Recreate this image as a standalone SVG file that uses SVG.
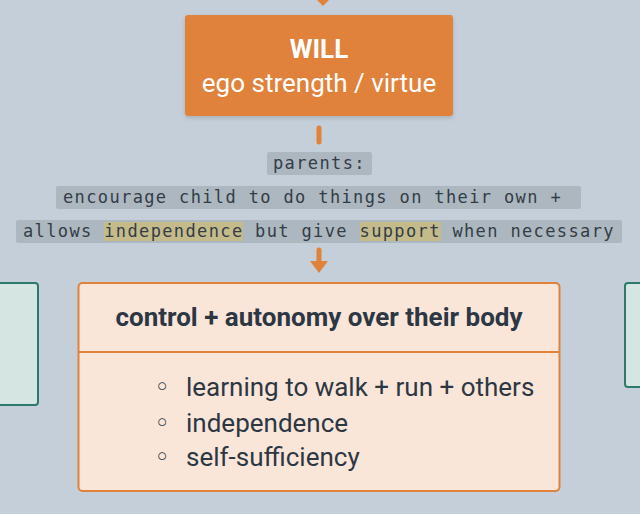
<svg xmlns="http://www.w3.org/2000/svg" width="640" height="514" viewBox="0 0 640 514">
<defs>
<style>
.bg{fill:#c5cfd9}
.sans{font-family:Roboto,"Noto Sans","Liberation Sans",sans-serif}
.mono{font-family:"DejaVu Sans Mono","Liberation Mono",monospace;font-size:17px;letter-spacing:1.37px;fill:#333d47}
.lbl{fill:#adb7c0}
.hl{fill:#c5bb8a}
.conn{stroke:#e0823a;stroke-width:5;stroke-linecap:round;fill:none}
.arrow{fill:#e0823a}
.side{fill:#d5e5e2;stroke:#2e7a6a;stroke-width:2}
.dark{fill:#2d3744}
.bul{font-family:"DejaVu Sans",sans-serif;font-size:26px}
</style>
<filter id="sh" x="-10%" y="-10%" width="120%" height="130%">
<feDropShadow dx="0" dy="2" stdDeviation="2" flood-color="#000" flood-opacity="0.15"/>
</filter>
</defs>
<rect class="bg" x="0" y="0" width="640" height="514"/>

<g id="connectors">
<polygon class="arrow" points="317,0 329,0 323,6"/>
<line class="conn" x1="319" y1="128" x2="319" y2="142"/>
<line class="conn" x1="319" y1="250" x2="319" y2="262"/>
<polygon class="arrow" points="310,261 328,261 319,273"/>
</g>

<g id="label">
<rect class="lbl" x="267" y="152" width="105" height="23" rx="2"/>
<rect class="lbl" x="56" y="186" width="525" height="23" rx="2"/>
<rect class="lbl" x="16" y="220" width="606" height="23" rx="2"/>
<rect class="hl" x="104" y="222" width="139" height="19"/>
<rect class="hl" x="360" y="222" width="81" height="19"/>
<text class="mono" x="273" y="169">parents:</text>
<text class="mono" x="63" y="203">encourage child to do things on their own + </text>
<text class="mono" x="23" y="237">allows independence but give support when necessary</text>
</g>

<g id="will">
<rect x="185" y="15" width="268" height="101" rx="3" fill="#e0823a" filter="url(#sh)"/>
<text class="sans" x="319" y="58" text-anchor="middle" font-size="26" font-weight="bold" fill="#ffffff">WILL</text>
<text class="sans" x="319" y="92" text-anchor="middle" font-size="26" fill="#ffffff">ego strength / virtue</text>
</g>

<g id="left-node">
<rect class="side" x="-6" y="283" width="44" height="122" rx="3"/>
</g>
<g id="right-node">
<rect class="side" x="625" y="283" width="30" height="104" rx="3"/>
</g>

<g id="autonomy">
<rect x="78.5" y="283" width="481" height="208" rx="4" fill="#f9e6d8" stroke="#e0823a" stroke-width="2"/>
<line x1="78.5" y1="352" x2="559.5" y2="352" stroke="#e0823a" stroke-width="2"/>
<text class="sans dark" x="319" y="326" text-anchor="middle" font-size="26" font-weight="bold">control + autonomy over their body</text>
<g class="sans dark" font-size="26">
<text class="bul" x="162" y="396" text-anchor="middle">◦</text>
<text x="186" y="396">learning to walk + run + others</text>
<text class="bul" x="162" y="432" text-anchor="middle">◦</text>
<text x="186" y="432">independence</text>
<text class="bul" x="162" y="466" text-anchor="middle">◦</text>
<text x="186" y="466">self-sufficiency</text>
</g>
</g>
</svg>
